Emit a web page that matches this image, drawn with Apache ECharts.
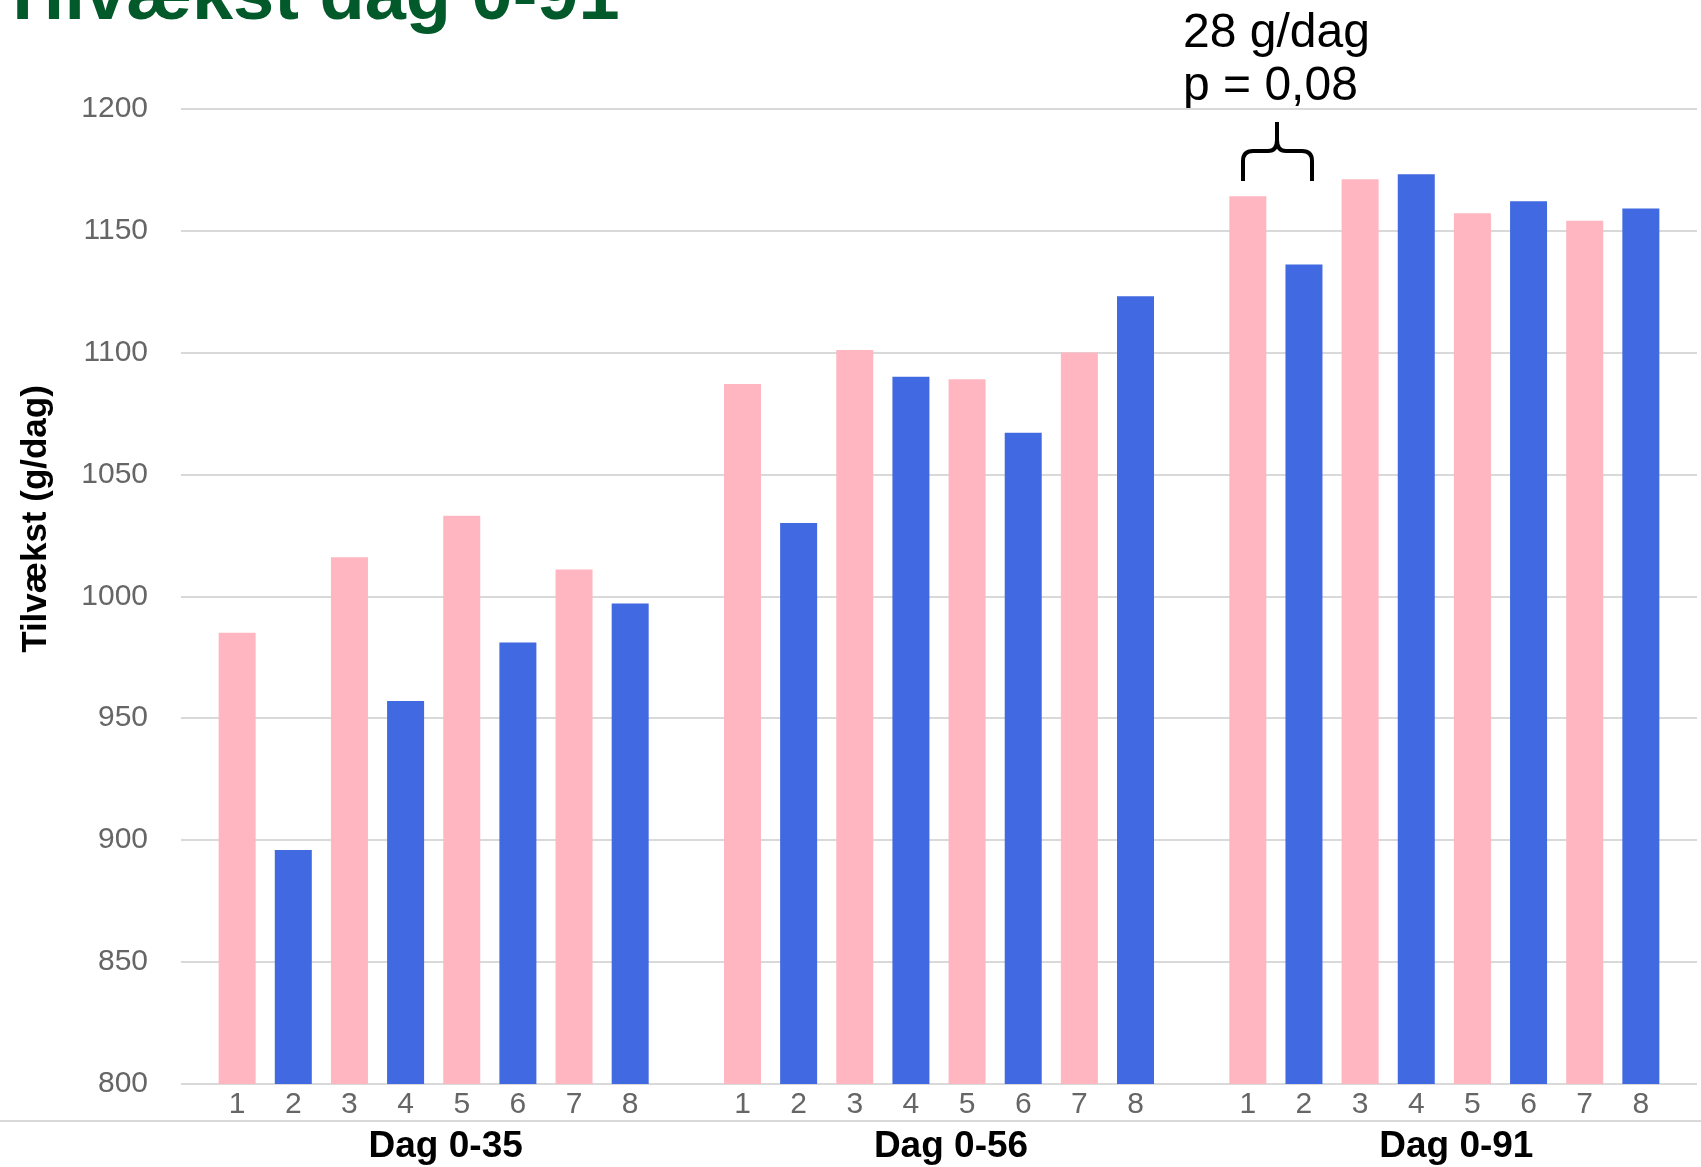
<!DOCTYPE html>
<html>
<head>
    <meta charset="utf-8">
    <title>Tilvækst dag 0-91</title>
    <script src="https://cdn.jsdelivr.net/npm/echarts@6.0.0/dist/echarts.min.js"></script>
    <style>
        html, body { margin: 0; padding: 0; background: #fff; }
        #chart { width: 1701px; height: 1167px; }
    </style>
</head>
<body>
<div id="chart"></div>

<script>
  // data (g/dag), hold 1-8 per periode
  var periods = ['Dag 0-35', 'Dag 0-56', 'Dag 0-91'];
  var holdLabels = ['1', '2', '3', '4', '5', '6', '7', '8'];
  var dag35 = [985, 896, 1016, 957, 1033, 981, 1011, 997];
  var dag56 = [1087, 1030, 1101, 1090, 1089, 1067, 1100, 1123];
  var dag91 = [1164, 1136, 1171, 1173, 1157, 1162, 1154, 1159];
  var colors = ['#FFB6C1', '#4169E1'];   // ulige hold lyserød, lige hold blå

  // category axis: blank slot at each end and between the periods
  var cats = [''];
  var barData = ['-'];
  [dag35, dag56, dag91].forEach(function (vals) {
      vals.forEach(function (v, i) {
          cats.push(holdLabels[i]);
          barData.push({ value: v, itemStyle: { color: colors[i % 2] } });
      });
      cats.push('');
      barData.push('-');
  });

  var font = '"Liberation Sans", Arial, sans-serif';
  var myChart = echarts.init(document.getElementById('chart'));

  // brace over hold 1 and 2 in dag 0-91
  var braceStyle = { stroke: '#000', lineWidth: 4, fill: null };
  var brace = [
      { type: 'polyline', shape: { points: [[1243, 181], [1243, 161]] }, style: braceStyle },
      { type: 'bezierCurve', shape: { x1: 1243, y1: 161, cpx1: 1243, cpy1: 151, x2: 1253, y2: 151 }, style: braceStyle },
      { type: 'polyline', shape: { points: [[1253, 151], [1268, 151]] }, style: braceStyle },
      { type: 'bezierCurve', shape: { x1: 1268, y1: 151, cpx1: 1277, cpy1: 151, x2: 1277, y2: 140 }, style: braceStyle },
      { type: 'polyline', shape: { points: [[1277, 140], [1277, 122]] }, style: braceStyle },
      { type: 'bezierCurve', shape: { x1: 1277, y1: 140, cpx1: 1277, cpy1: 151, x2: 1286, y2: 151 }, style: braceStyle },
      { type: 'polyline', shape: { points: [[1286, 151], [1302, 151]] }, style: braceStyle },
      { type: 'bezierCurve', shape: { x1: 1302, y1: 151, cpx1: 1312, cpy1: 151, x2: 1312, y2: 161 }, style: braceStyle },
      { type: 'polyline', shape: { points: [[1312, 161], [1312, 181]] }, style: braceStyle }
  ];

  myChart.setOption({
      animation: false,
      backgroundColor: '#fff',
      grid: { left: 181, right: 4, top: 108.5, bottom: 83, containLabel: false },
      xAxis: [
          {
              type: 'category',
              data: cats,
              boundaryGap: false,
              axisLine: { show: false },
              axisTick: { show: false },
              axisLabel: { interval: 0, margin: 6, fontSize: 30, color: '#666', fontFamily: font }
          },
          {
              type: 'category',
              data: periods,
              position: 'bottom',
              boundaryGap: true,
              axisLine: { show: false },
              axisTick: { show: false },
              axisLabel: {
                  interval: 0, margin: 44, fontSize: 37, fontWeight: 'bold',
                  color: '#000', fontFamily: font, padding: [0, 0, 0, 24]
              }
          }
      ],
      yAxis: {
          type: 'value',
          min: 800,
          max: 1200,
          interval: 50,
          axisLine: { show: false },
          axisTick: { show: false },
          axisLabel: {
              margin: 33, fontSize: 30, color: '#666', fontFamily: font,
              formatter: function (v) { return String(v); }
          },
          splitLine: { lineStyle: { color: '#d9d9d9', width: 2 } }
      },
      series: [
          {
              type: 'bar',
              xAxisIndex: 0,
              barWidth: 37,
              data: barData
          }
      ],
      graphic: [
          // title, cut off at the top edge
          {
              type: 'text', x: 0, y: -38,
              style: { text: 'Tilvækst dag 0-91', fill: '#02592A', font: 'bold 74px ' + font, verticalAlign: 'top' }
          },
          // y axis title
          {
              type: 'text', x: 36, y: 519, rotation: Math.PI / 2,
              style: { text: 'Tilvækst (g/dag)', fill: '#000', font: 'bold 35px ' + font, align: 'center', verticalAlign: 'middle' }
          },
          // separator above period labels
          {
              type: 'line',
              shape: { x1: 0, y1: 1121, x2: 1701, y2: 1121 },
              style: { stroke: '#d9d9d9', lineWidth: 2 }
          },
          // annotation
          {
              type: 'text', x: 1183, y: 10,
              style: { text: '28 g/dag', fill: '#000', font: '48px ' + font, verticalAlign: 'top' }
          },
          {
              type: 'text', x: 1183, y: 63,
              style: { text: 'p = 0,08', fill: '#000', font: '48px ' + font, verticalAlign: 'top' }
          }
      ].concat(brace)
  });
</script>
</body>
</html>
